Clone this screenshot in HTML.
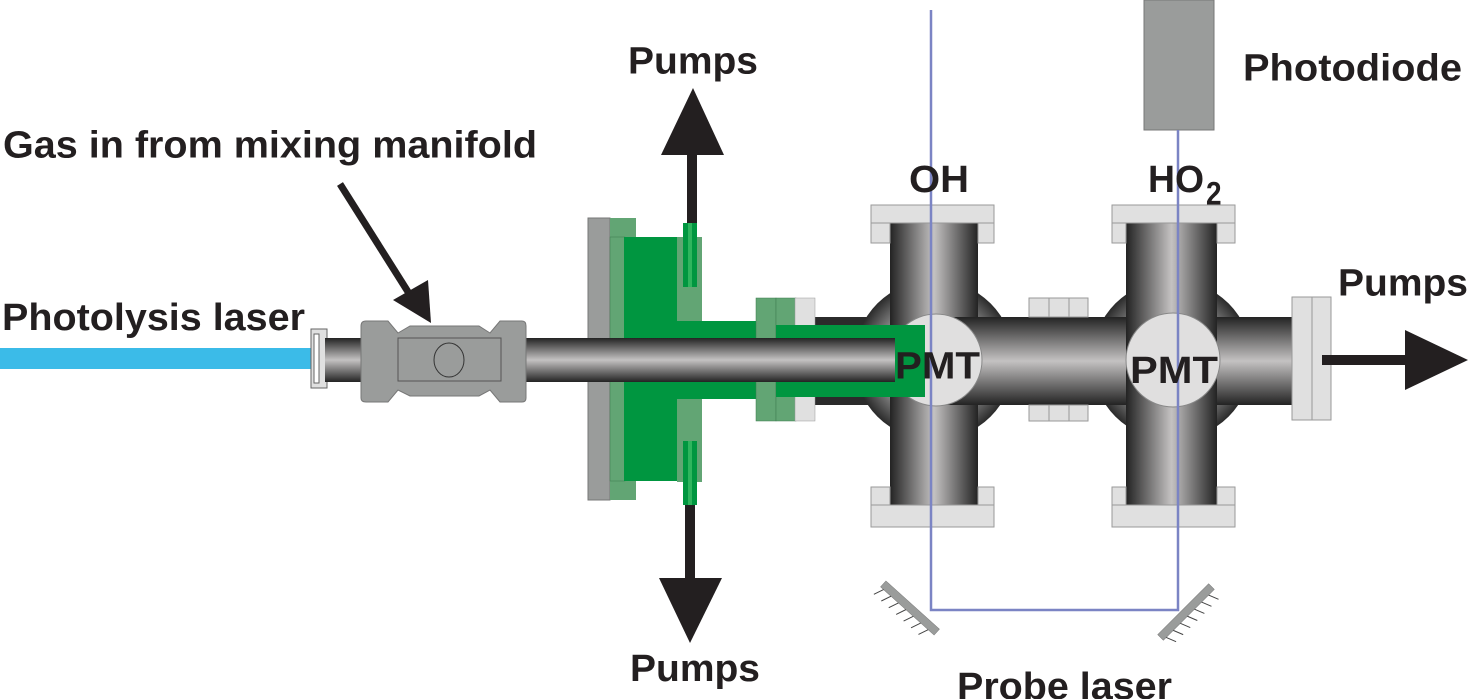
<!DOCTYPE html>
<html><head><meta charset="utf-8"><style>
html,body{margin:0;padding:0;background:#fff;width:1469px;height:699px;overflow:hidden}
svg{display:block}
text{font-family:"Liberation Sans",Arial,sans-serif;font-weight:bold;fill:#231f20}
</style></head><body>
<svg width="1469" height="699" viewBox="0 0 1469 699" xmlns="http://www.w3.org/2000/svg">
<defs>
<linearGradient id="gv" x1="0" y1="0" x2="0" y2="1">
<stop offset="0" stop-color="#232323"/><stop offset="0.5" stop-color="#c4c2c2"/><stop offset="1" stop-color="#232323"/></linearGradient>
<linearGradient id="gh" x1="0" y1="0" x2="1" y2="0">
<stop offset="0" stop-color="#232323"/><stop offset="0.5" stop-color="#c4c2c2"/><stop offset="1" stop-color="#232323"/></linearGradient>
<radialGradient id="gr" cx="0.5" cy="0.5" r="0.5">
<stop offset="0.55" stop-color="#b0b0b0"/><stop offset="1" stop-color="#2a2a2a"/></radialGradient>
</defs>

<rect x="0" y="348" width="312" height="21" fill="#3bbbe8"/>
<rect x="311" y="329" width="16" height="59" fill="#e0e0e0" stroke="#666" stroke-width="1"/>
<rect x="314" y="334" width="5" height="49" fill="#fff" stroke="#666" stroke-width="1"/>

<rect x="588" y="218" width="22" height="282" fill="#9a9c9b" stroke="#777" stroke-width="1"/>
<rect x="610" y="218" width="26" height="20" fill="#62a574"/>
<rect x="610" y="481" width="26" height="19" fill="#62a574"/>
<rect x="610" y="237" width="15" height="244" fill="#62a574" stroke="#3d7a4e" stroke-width="0.5"/>
<rect x="624" y="237" width="53" height="244" fill="#009640"/>
<rect x="677" y="237" width="25" height="245" fill="#62a574"/>
<rect x="677" y="321" width="100" height="78" fill="#009640"/>
<rect x="795" y="317" width="140" height="88" fill="#2b2b2b"/>
<rect x="756" y="298" width="20" height="123" fill="#62a574" stroke="#3d7a4e" stroke-width="0.5"/>
<rect x="776" y="298" width="20" height="123" fill="#62a574" stroke="#3d7a4e" stroke-width="0.5"/>
<rect x="795" y="298" width="20" height="123" fill="#e0e0e0" stroke="#999" stroke-width="0.5"/>

<rect x="687" y="150" width="10" height="80" fill="#231f20"/>
<polygon points="693,88 661,155 724,155" fill="#231f20"/>
<rect x="685" y="490" width="10" height="95" fill="#231f20"/>
<polygon points="690,643 659,578 722,578" fill="#231f20"/>
<rect x="683" y="223" width="14" height="64" fill="#009640"/>
<rect x="688" y="223" width="4" height="64" fill="#2fb55e"/>
<rect x="683" y="441" width="14" height="64" fill="#009640"/>
<rect x="688" y="441" width="4" height="64" fill="#2fb55e"/>

<circle cx="934" cy="360" r="80" fill="url(#gr)"/>
<rect x="890" y="223" width="88" height="282" fill="url(#gh)"/>
<rect x="871" y="205" width="123" height="18" fill="#e0e0e0" stroke="#999" stroke-width="1"/>
<rect x="871" y="223" width="19" height="20" fill="#e0e0e0" stroke="#999" stroke-width="1"/>
<rect x="978" y="223" width="16" height="20" fill="#e0e0e0" stroke="#999" stroke-width="1"/>
<rect x="871" y="487" width="19" height="18" fill="#e0e0e0" stroke="#999" stroke-width="1"/>
<rect x="978" y="487" width="16" height="18" fill="#e0e0e0" stroke="#999" stroke-width="1"/>
<rect x="871" y="505" width="123" height="22" fill="#e0e0e0" stroke="#999" stroke-width="1"/>

<circle cx="1172" cy="360" r="80" fill="url(#gr)"/>
<rect x="978" y="317" width="334" height="88" fill="url(#gv)"/>
<rect x="1126" y="223" width="91" height="282" fill="url(#gh)"/>
<rect x="1112" y="205" width="123" height="18" fill="#e0e0e0" stroke="#999" stroke-width="1"/>
<rect x="1112" y="223" width="14" height="20" fill="#e0e0e0" stroke="#999" stroke-width="1"/>
<rect x="1217" y="223" width="18" height="20" fill="#e0e0e0" stroke="#999" stroke-width="1"/>
<rect x="1112" y="487" width="14" height="18" fill="#e0e0e0" stroke="#999" stroke-width="1"/>
<rect x="1217" y="487" width="18" height="18" fill="#e0e0e0" stroke="#999" stroke-width="1"/>
<rect x="1112" y="505" width="123" height="22" fill="#e0e0e0" stroke="#999" stroke-width="1"/>
<rect x="935" y="317" width="43" height="88" fill="url(#gv)"/>
<rect x="1029" y="298" width="20" height="19" fill="#e0e0e0" stroke="#999" stroke-width="1"/>
<rect x="1049" y="298" width="20" height="19" fill="#e0e0e0" stroke="#999" stroke-width="1"/>
<rect x="1069" y="298" width="19" height="19" fill="#e0e0e0" stroke="#999" stroke-width="1"/>
<rect x="1029" y="405" width="20" height="16" fill="#e0e0e0" stroke="#999" stroke-width="1"/>
<rect x="1049" y="405" width="20" height="16" fill="#e0e0e0" stroke="#999" stroke-width="1"/>
<rect x="1069" y="405" width="19" height="16" fill="#e0e0e0" stroke="#999" stroke-width="1"/>
<rect x="1292" y="297" width="20" height="123" fill="#e0e0e0" stroke="#999" stroke-width="1"/>
<rect x="1312" y="297" width="19" height="123" fill="#e0e0e0" stroke="#999" stroke-width="1"/>

<circle cx="936" cy="360" r="46" fill="#e0dfdf" stroke="#888" stroke-width="1"/>
<circle cx="1173" cy="360" r="47" fill="#e0dfdf" stroke="#888" stroke-width="1"/>

<rect x="776" y="325" width="149" height="72" fill="#009640"/>
<rect x="325" y="338" width="570" height="44" fill="url(#gv)"/>

<path d="M366,321 L388,321 L398,333 L410,326 L479,326 L490,333 L500,321 L522,321 Q526,321 526,326 L526,398 Q526,402 522,402 L500,402 L490,390 L479,396 L410,396 L398,390 L388,402 L366,402 Q361,402 361,398 L361,326 Q361,321 366,321 Z" fill="#9a9c9b" stroke="#777" stroke-width="1"/>
<rect x="398" y="338" width="103" height="43" fill="#9a9c9b" stroke="#555" stroke-width="1"/>
<ellipse cx="449" cy="360" rx="15" ry="17" fill="none" stroke="#333" stroke-width="1"/>

<rect x="1322" y="355" width="85" height="10" fill="#231f20"/>
<polygon points="1468,360 1405,330 1405,390" fill="#231f20"/>

<rect x="1144" y="0" width="70" height="130" fill="#9a9c9b" stroke="#777" stroke-width="1"/>

<polyline points="931,10 931,610 1178,610 1178,130" fill="none" stroke="#7b84c4" stroke-width="2.5"/>

<g transform="translate(910,608) rotate(42)">
<rect x="-36" y="-4" width="72" height="8" fill="#9a9c9b" stroke="#777" stroke-width="0.5"/>
<path d="M-32,4 l-4,10 M-22,4 l-4,10 M-12,4 l-4,10 M-2,4 l-4,10 M8,4 l-4,10 M18,4 l-4,10 M28,4 l-4,10" stroke="#444" stroke-width="1"/>
</g>
<g transform="translate(1186,612) rotate(-45)">
<rect x="-36" y="-4" width="72" height="8" fill="#9a9c9b" stroke="#777" stroke-width="0.5"/>
<path d="M-32,4 l4,10 M-22,4 l4,10 M-12,4 l4,10 M-2,4 l4,10 M8,4 l4,10 M18,4 l4,10 M28,4 l4,10" stroke="#444" stroke-width="1"/>
</g>

<line x1="340" y1="184" x2="410" y2="295" stroke="#231f20" stroke-width="7"/>
<polygon points="431,323 393,300 428,280" fill="#231f20"/>

<g transform="scale(1,1.15)">
<text x="628" y="64" font-size="33" textLength="130" lengthAdjust="spacingAndGlyphs">Pumps</text>
<text x="3" y="137" font-size="33" textLength="534" lengthAdjust="spacingAndGlyphs">Gas in from mixing manifold</text>
<text x="2" y="287" font-size="33" textLength="303" lengthAdjust="spacingAndGlyphs">Photolysis laser</text>
<text x="909" y="167" font-size="33" textLength="60" lengthAdjust="spacingAndGlyphs">OH</text>
<text x="1148" y="167" font-size="33" textLength="56" lengthAdjust="spacingAndGlyphs">HO</text>
<text x="1206" y="178" font-size="28">2</text>
<text x="1243" y="70" font-size="33" textLength="219" lengthAdjust="spacingAndGlyphs">Photodiode</text>
<text x="1338" y="257" font-size="33" textLength="130" lengthAdjust="spacingAndGlyphs">Pumps</text>
<text x="630" y="592" font-size="33" textLength="130" lengthAdjust="spacingAndGlyphs">Pumps</text>
<text x="957" y="608" font-size="33" textLength="215" lengthAdjust="spacingAndGlyphs">Probe laser</text>
<text x="895" y="329" font-size="33" textLength="85" lengthAdjust="spacingAndGlyphs">PMT</text>
<text x="1130" y="333" font-size="33" textLength="88" lengthAdjust="spacingAndGlyphs">PMT</text>
</g>
</svg>
</body></html>
